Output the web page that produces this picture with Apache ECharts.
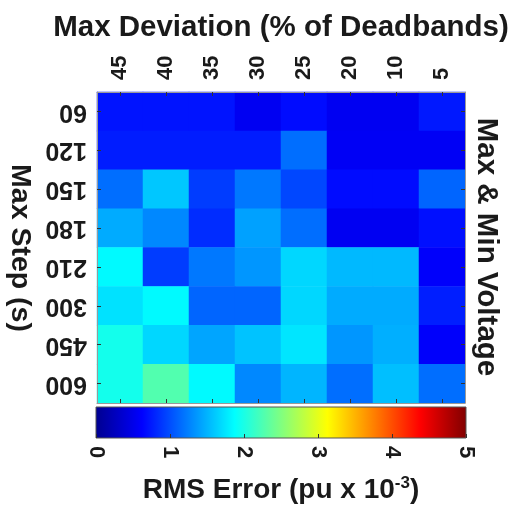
<!DOCTYPE html>
<html><head><meta charset="utf-8">
<script src="https://cdn.jsdelivr.net/npm/echarts@6/dist/echarts.min.js"></script>
<style>html,body{margin:0;padding:0;background:#fff}#c{width:516px;height:506px}</style>
</head><body><div id="c"></div>
<script>
var xCats = ['45','40','35','30','25','20','10','5'];
var yCats = ['60','120','150','180','210','300','450','600'];
var row60  = [0.72, 0.72, 0.72, 0.55, 0.68, 0.55, 0.55, 0.74];
var row120 = [0.76, 0.76, 0.76, 0.76, 1.16, 0.57, 0.57, 0.57];
var row150 = [1.16, 1.60, 0.92, 1.21, 0.97, 0.68, 0.68, 1.12];
var row180 = [1.46, 1.29, 0.84, 1.41, 1.16, 0.55, 0.55, 0.70];
var row210 = [1.85, 0.92, 1.21, 1.36, 1.68, 1.53, 1.53, 0.60];
var row300 = [1.73, 1.85, 1.12, 1.12, 1.68, 1.46, 1.46, 0.77];
var row450 = [1.97, 1.68, 1.43, 1.58, 1.75, 1.36, 1.48, 0.60];
var row600 = [1.97, 2.27, 1.85, 1.29, 1.51, 1.16, 1.56, 1.16];
var rows = [row60, row120, row150, row180, row210, row300, row450, row600];
var cbTicks = [0, 1, 2, 3, 4, 5];
var jet = ['#00008F','#0000FF','#0080FF','#00FFFF','#80FF80','#FFFF00','#FF8000','#FF0000','#800000'];

var data = [];
rows.forEach(function (r, yi) { r.forEach(function (v, xi) { data.push([xi, yi, v]); }); });

var FONT = 'Liberation Sans';
var chart = echarts.init(document.getElementById('c'));
var stops = jet.map(function (c, i) { return { offset: i / (jet.length - 1), color: c }; });
var tickStyle = { show: true, inside: true, length: 4, alignWithLabel: true, lineStyle: { color: '#333', width: 1 } };
var lineStyle = { show: true, lineStyle: { color: '#999', width: 1 } };

chart.setOption({
  animation: false,
  grid: [
    { left: 97, top: 92, width: 368, height: 311 },
    { left: 96, top: 407, width: 370, height: 31 }
  ],
  visualMap: { type: 'continuous', min: 0, max: 5, show: false, seriesIndex: 0, inRange: { color: jet } },
  xAxis: [
    { type: 'category', gridIndex: 0, position: 'top', data: xCats, z: 10,
      axisLine: lineStyle, axisTick: tickStyle,
      axisLabel: { rotate: -90, margin: 12, fontSize: 22, fontWeight: 'bold', fontFamily: FONT, color: '#1a1a1a',
        padding: [0, 0, 10, 0] } },
    { type: 'category', gridIndex: 0, position: 'bottom', data: xCats, z: 10,
      axisLine: lineStyle, axisTick: tickStyle, axisLabel: { show: false } },
    { type: 'value', gridIndex: 1, position: 'bottom', min: 0, max: 5, interval: 1, z: 10,
      axisLine: { show: false }, splitLine: { show: false },
      axisTick: { show: true, inside: true, length: 4, lineStyle: { color: '#333' } },
      axisLabel: { rotate: -90, margin: 8, fontSize: 22, fontWeight: 'bold', fontFamily: FONT, color: '#1a1a1a',
        customValues: cbTicks } }
  ],
  yAxis: [
    { type: 'category', gridIndex: 0, position: 'left', inverse: true, data: yCats, z: 10,
      axisLine: lineStyle, axisTick: tickStyle,
      axisLabel: { rotate: 180, margin: 10, fontSize: 25, fontWeight: 'bold', fontFamily: FONT, color: '#1a1a1a' } },
    { type: 'category', gridIndex: 0, position: 'right', inverse: true, data: yCats, z: 10,
      axisLine: lineStyle, axisTick: tickStyle, axisLabel: { show: false } },
    { type: 'value', gridIndex: 1, show: false, min: 0, max: 1 }
  ],
  series: [
    { type: 'heatmap', xAxisIndex: 0, yAxisIndex: 0, data: data, itemStyle: { borderWidth: 0 } }
  ],
  graphic: [
    { type: 'rect', z: -1, shape: { x: 96, y: 407, width: 370, height: 31 },
      style: { fill: new echarts.graphic.LinearGradient(0, 0, 1, 0, stops), stroke: '#555', lineWidth: 1 } },
    { type: 'text', x: 281, y: 28,
      style: { text: 'Max Deviation (% of Deadbands)', font: 'bold 29.5px ' + FONT, fill: '#1a1a1a', textAlign: 'center', textVerticalAlign: 'middle' } },
    { type: 'text', x: 20, y: 248, rotation: -Math.PI / 2,
      style: { text: 'Max Step (s)', font: 'bold 28.5px ' + FONT, fill: '#1a1a1a', textAlign: 'center', textVerticalAlign: 'middle' } },
    { type: 'text', x: 486, y: 247, rotation: -Math.PI / 2,
      style: { text: 'Max & Min Voltage', font: 'bold 29.5px ' + FONT, fill: '#1a1a1a', textAlign: 'center', textVerticalAlign: 'middle' } },
    { type: 'text', x: 281, y: 490,
      style: { text: '{a|RMS Error (pu x 10}{s|-3}{a|)}', textAlign: 'center', textVerticalAlign: 'middle',
        rich: { a: { fontSize: 28, fontWeight: 'bold', fontFamily: FONT, fill: '#1a1a1a', lineHeight: 30 },
                s: { fontSize: 17, fontWeight: 'bold', fontFamily: FONT, fill: '#1a1a1a', verticalAlign: 'top', lineHeight: 30 } } } }
  ]
});
</script></body></html>
